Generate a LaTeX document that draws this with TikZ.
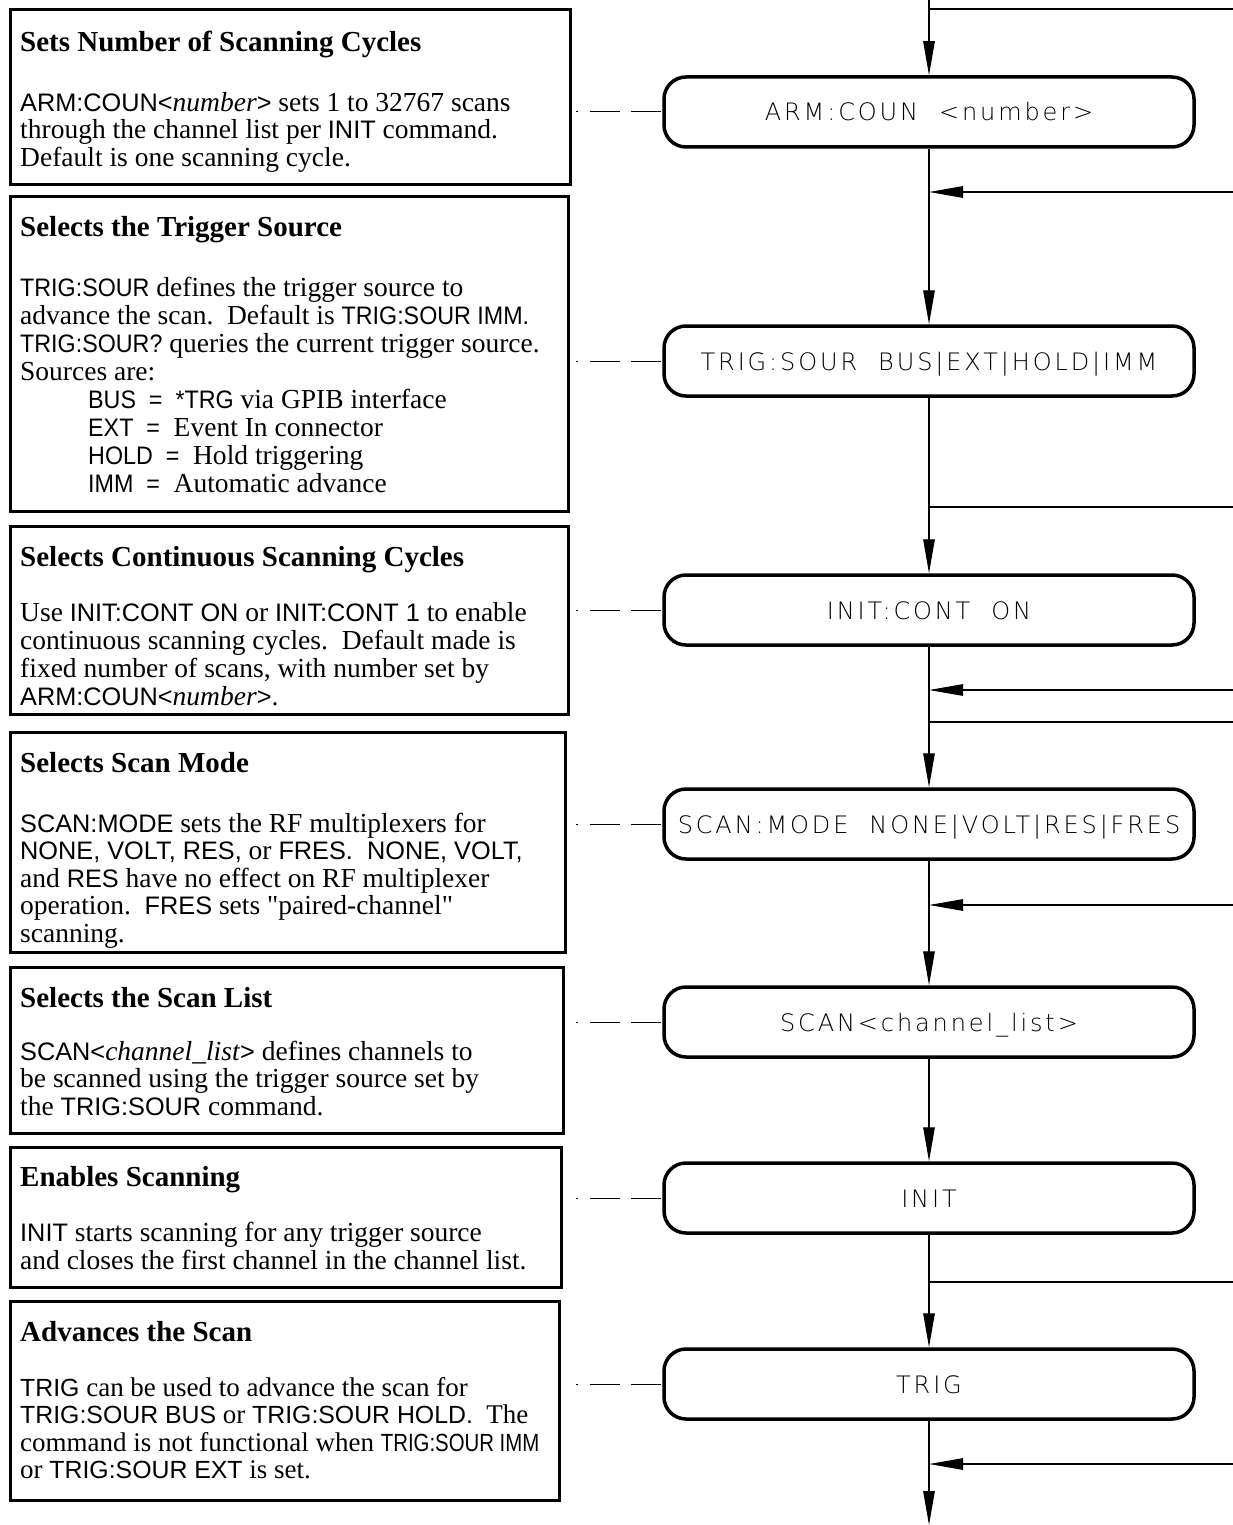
\documentclass[tikz,border=0pt]{standalone}
\usepackage{fontspec}
\setmainfont{Liberation Serif}
\newfontfamily\quotefont{Liberation Serif}
\newfontfamily\arialwide[Scale=0.92]{Liberation Sans}
\newfontfamily\arialfont[Scale=0.92, FakeStretch=0.92]{Liberation Sans}
\newfontfamily\arialnarrow[Scale=0.92, FakeStretch=0.82]{Liberation Sans}
\newfontfamily\cadfont[LetterSpace=12]{DejaVu Sans ExtraLight}
\usetikzlibrary{arrows.meta}
\let\cmdsans\arialwide
\newcommand\sanscmd[1]{{\cmdsans #1}}
\newcommand\dq{{\quotefont\symbol{34}}}
\tikzset{
  lbox/.style={draw, line width=3pt, inner sep=0pt, outer sep=0pt},
  ttl/.style={anchor=base west, inner sep=0pt, font=\fontsize{29}{32}\selectfont\bfseries},
  body/.style={anchor=north west, inner sep=0pt, align=left, font=\fontsize{27.5}{27.5}\selectfont},
  cmdbox/.style={draw, line width=3.5pt, rounded corners=22pt, minimum width=530pt,
     minimum height=70pt, inner sep=0pt, text height=18pt, text depth=0pt,
     font=\fontsize{24}{26}\cadfont},
  flow/.style={line width=1.2pt, -{Triangle[length=34pt,width=11.5pt]}},
  plain/.style={line width=1.2pt},
  dashlink/.style={line width=1pt, dash pattern=on 2pt off 12pt on 30pt off 11pt on 30pt off 100pt},
}
\begin{document}
\begin{tikzpicture}[x=1pt,y=-1pt]
\useasboundingbox (0,0) rectangle (1233,1525);
\fill[white] (0,0) rectangle (1233,1525);

% ---------- left description boxes ----------
\node[lbox, minimum width=560pt, minimum height=175pt] (b1) at (290,97.5) {};
\node[ttl] (t1) at (20,51.5) {Sets Number of Scanning Cycles};
\node[body] (x1) at (20,91.75) {\strut\sanscmd{ARM:COUN<}\textit{number}\sanscmd{>} sets 1 to 32767 scans\\
through the channel list per \sanscmd{INIT} command.\\
Default is one scanning cycle.};

\node[lbox, minimum width=558pt, minimum height=315pt] (b2) at (289,354) {};
\node[ttl] (t2) at (20,236.5) {Selects the Trigger Source};
\node[body, font=\fontsize{27.5}{28}\selectfont\let\cmdsans\arialfont] (x2) at (20,276.4) {\strut\sanscmd{TRIG:SOUR} defines the trigger source to\\
advance the scan.\ \ Default is \sanscmd{TRIG:SOUR IMM.}\\
\sanscmd{TRIG:SOUR?} queries the current trigger source.\\
Sources are:\\
\hspace*{68pt}\sanscmd{BUS\ \ =\ \ *TRG} via GPIB interface\\
\hspace*{68pt}\sanscmd{EXT\ \ =}\ \ Event In connector\\
\hspace*{68pt}\sanscmd{HOLD\ \ =}\ \ Hold triggering\\
\hspace*{68pt}\sanscmd{IMM\ \ =}\ \ Automatic advance};

\node[lbox, minimum width=558pt, minimum height=188pt] (b3) at (289,620) {};
\node[ttl] (t3) at (20,566.5) {Selects Continuous Scanning Cycles};
\node[body, font=\fontsize{27.5}{28}\selectfont] (x3) at (20,601.4) {\strut Use \sanscmd{INIT:CONT ON} or \sanscmd{INIT:CONT 1} to enable\\
continuous scanning cycles.\ \ Default made is\\
fixed number of scans, with number set by\\
\sanscmd{ARM:COUN<}\textit{number}\sanscmd{>}.};

\node[lbox, minimum width=555pt, minimum height=220pt] (b4) at (287.5,842) {};
\node[ttl] (t4) at (20,772.5) {Selects Scan Mode};
\node[body] (x4) at (20,812.75) {\strut\sanscmd{SCAN:MODE} sets the RF multiplexers for\\
\sanscmd{NONE, VOLT, RES,} or \sanscmd{FRES.\ \ NONE, VOLT,}\\
and \sanscmd{RES} have no effect on RF multiplexer\\
operation.\ \ \sanscmd{FRES} sets \dq paired-channel\dq\\
scanning.};

\node[lbox, minimum width=553pt, minimum height=166pt] (b5) at (286.5,1050) {};
\node[ttl] (t5) at (20,1007.5) {Selects the Scan List};
\node[body] (x5) at (20,1040.75) {\strut\sanscmd{SCAN<}\textit{channel\_list}\sanscmd{>} defines channels to\\
be scanned using the trigger source set by\\
the \sanscmd{TRIG:SOUR} command.};

\node[lbox, minimum width=551pt, minimum height=140pt] (b6) at (285.5,1217) {};
\node[ttl] (t6) at (20,1186.5) {Enables Scanning};
\node[body] (x6) at (20,1221.75) {\strut\sanscmd{INIT} starts scanning for any trigger source\\
and closes the first channel in the channel list.};

\node[lbox, minimum width=549pt, minimum height=199pt] (b7) at (284.5,1400.5) {};
\node[ttl] (t7) at (20,1341.5) {Advances the Scan};
\node[body, font=\fontsize{27}{27.5}\selectfont] (x7) at (20,1376.75) {\strut\sanscmd{TRIG} can be used to advance the scan for\\
\sanscmd{TRIG:SOUR BUS} or \sanscmd{TRIG:SOUR HOLD.}\ \ The\\
command is not functional when {\arialnarrow TRIG:SOUR IMM}\\
or \sanscmd{TRIG:SOUR EXT} is set.};

% ---------- command boxes ----------
\node[cmdbox] (c1) at (929,112) {ARM:COUN\ \ <number>};
\node[cmdbox] (c2) at (929,361) {TRIG:SOUR\ \ BUS|EXT|HOLD|IMM};
\node[cmdbox] (c3) at (929,610) {INIT:CONT\ \ ON};
\node[cmdbox] (c4) at (929,824) {SCAN:MODE\ \ NONE|VOLT|RES|FRES};
\node[cmdbox] (c5) at (929,1022) {SCAN<channel\_list>};
\node[cmdbox] (c6) at (929,1198) {INIT};
\node[cmdbox] (c7) at (929,1384) {TRIG};

% ---------- main flow line ----------
\coordinate (top) at (929,0);
\coordinate (bot) at (929,1525);
\draw[flow] (top) -- (c1.north);
\draw[flow] (c1.south) -- (c2.north);
\draw[flow] (c2.south) -- (c3.north);
\draw[flow] (c3.south) -- (c4.north);
\draw[flow] (c4.south) -- (c5.north);
\draw[flow] (c5.south) -- (c6.north);
\draw[flow] (c6.south) -- (c7.north);
\draw[flow] (c7.south) -- (bot);

% ---------- side lines ----------
\foreach \n/\yy in {a/9, b/507, c/722, d/1282} {
  \coordinate (j\n) at (929,\yy);
  \coordinate (r\n) at (1233,\yy);
  \draw[plain] (j\n) -- (r\n);
}
\foreach \n/\yy in {e/192, f/690, g/905, h/1464} {
  \coordinate (j\n) at (929,\yy);
  \coordinate (r\n) at (1233,\yy);
  \draw[flow] (r\n) -- (j\n);
}

% ---------- dashed links ----------
\coordinate (dx) at (576,0);
\foreach \i in {1,...,7} {
  \coordinate (d\i) at (dx |- c\i.west);
  \draw[dashlink] (d\i) -- (c\i.west);
}
\end{tikzpicture}
\end{document}
